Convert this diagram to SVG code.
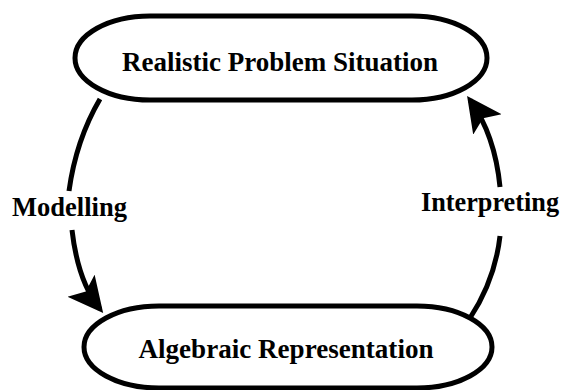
<svg xmlns="http://www.w3.org/2000/svg" width="567" height="390" viewBox="0 0 567 390">
<style>
.node{fill:#fff;stroke:#000;stroke-width:5}
.lbl{font-family:"Liberation Serif","Times New Roman",serif;font-weight:bold;font-size:28px;fill:#000}
.edge{fill:none;stroke:#000;stroke-width:5}
</style>
<defs>
<marker id="ah" markerWidth="8" markerHeight="8" refX="6" refY="3.5" orient="auto" markerUnits="strokeWidth">
<path d="M0,0 L7,3.5 L0,7 L1.5,3.5 Z" fill="#000"/>
</marker>
</defs>
<rect width="567" height="390" fill="#fff"/>
<g id="realistic">
<rect class="node" x="75" y="16" width="412" height="84" rx="75" ry="42"/>
<text class="lbl" x="280" y="71" text-anchor="middle" textLength="316" lengthAdjust="spacingAndGlyphs">Realistic Problem Situation</text>
</g>
<g id="algebraic">
<rect class="node" x="84" y="306" width="408" height="82" rx="75" ry="41"/>
<text class="lbl" x="286" y="358" text-anchor="middle" textLength="295" lengthAdjust="spacingAndGlyphs">Algebraic Representation</text>
</g>
<g id="connectors">
<path class="edge" d="M100,99 Q76,140 69,191"/>
<path class="edge" d="M72,230 Q78,282 100,309" marker-end="url(#ah)"/>
<path class="edge" d="M470,318 Q495,280 500,236"/>
<path class="edge" d="M500,187 Q495,135 470,100" marker-end="url(#ah)"/>
</g>
<text class="lbl" x="12" y="216" textLength="115" lengthAdjust="spacingAndGlyphs">Modelling</text>
<text class="lbl" x="421" y="211" textLength="138" lengthAdjust="spacingAndGlyphs">Interpreting</text>
</svg>
